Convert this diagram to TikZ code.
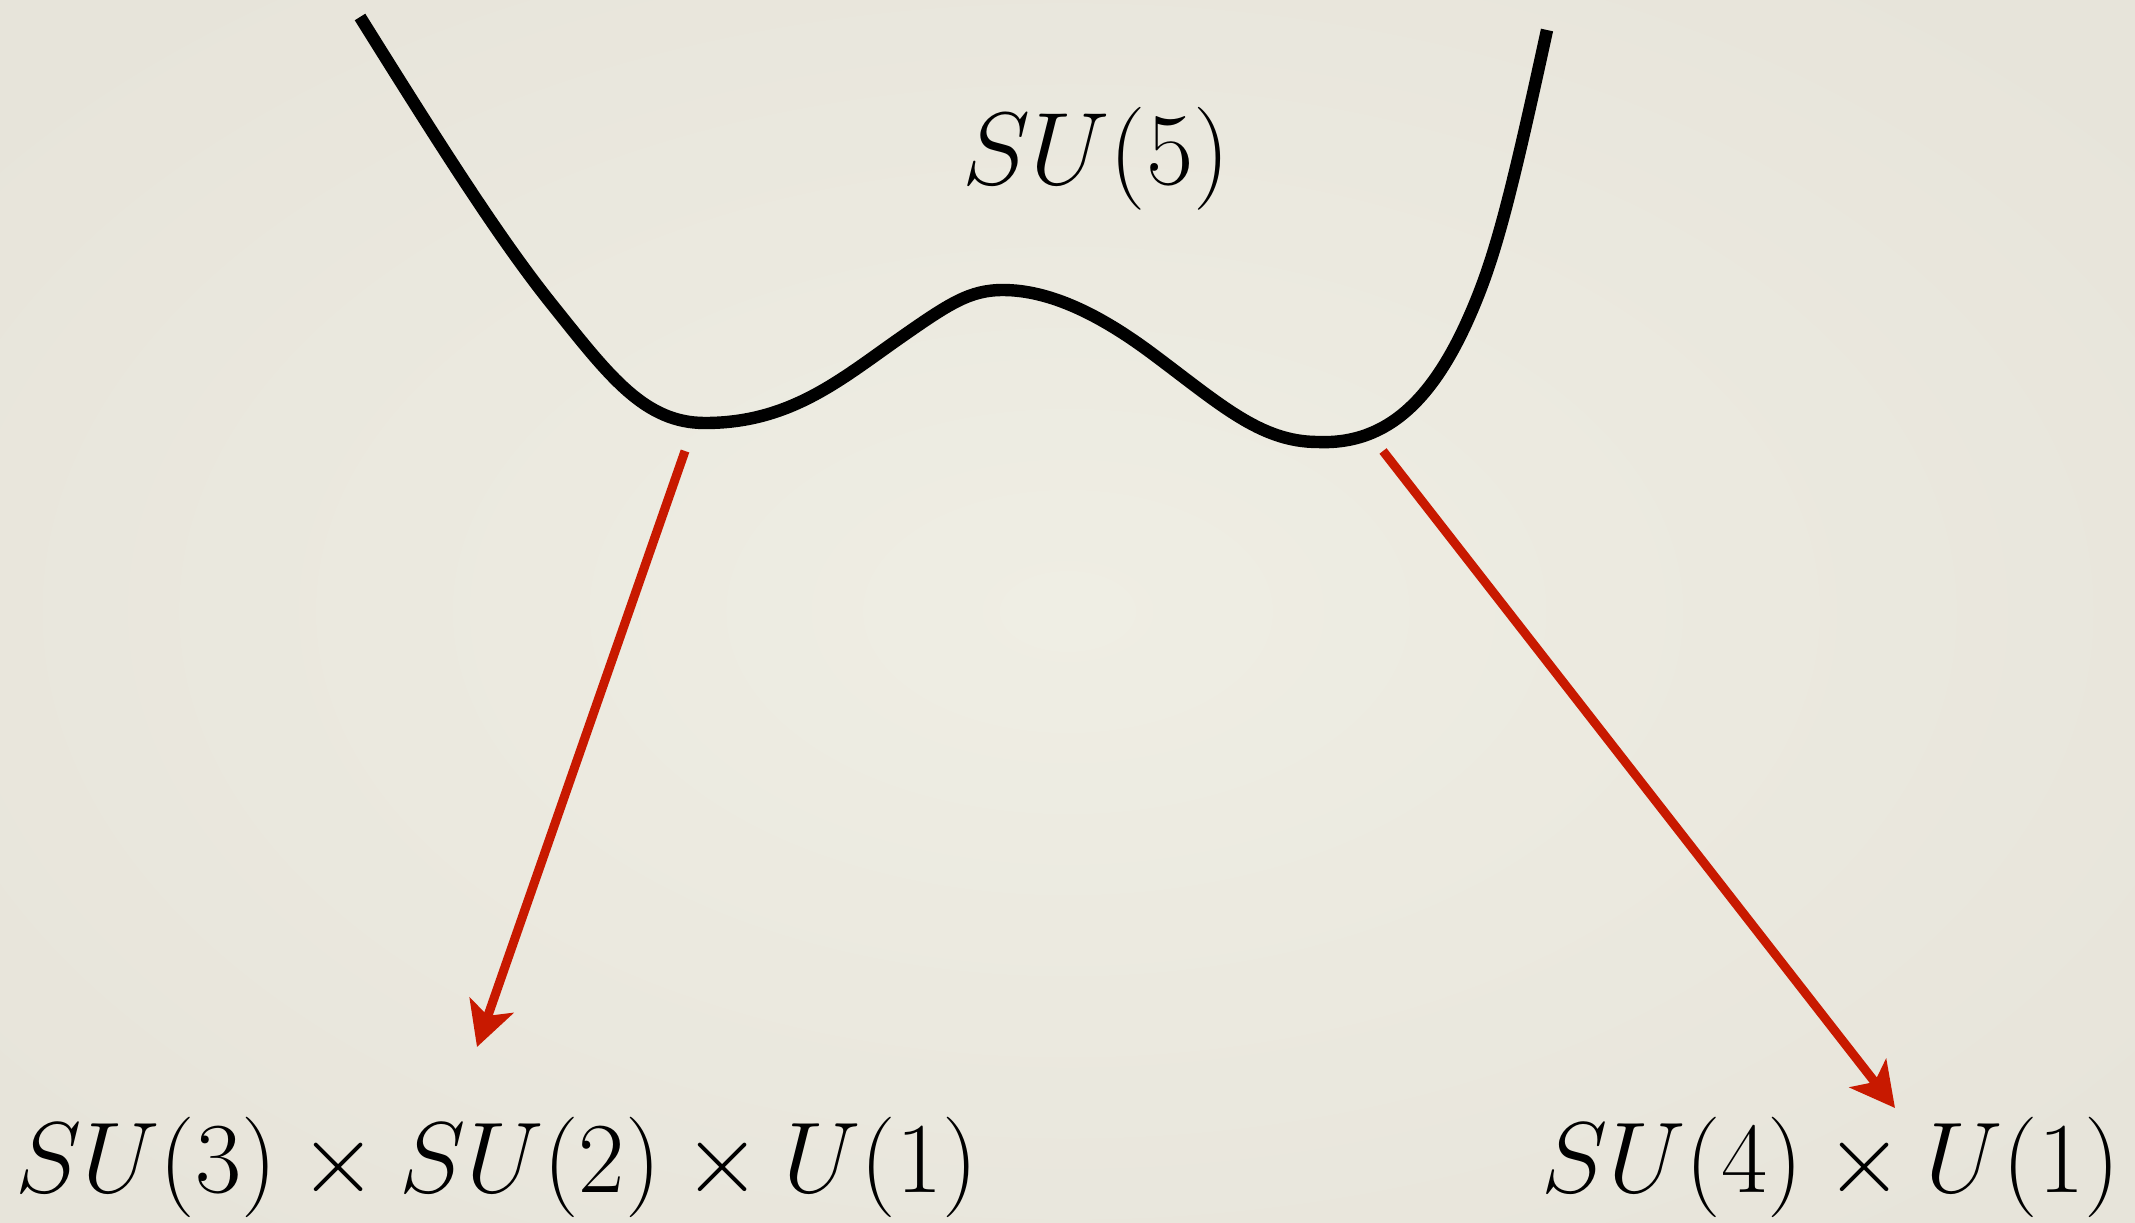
\documentclass[tikz,border=0pt]{standalone}
\usetikzlibrary{arrows.meta}
\definecolor{bgcenter}{HTML}{EFEEE4}
\definecolor{bgedge}{HTML}{E7E4DA}
\definecolor{arrowred}{HTML}{C81900}
\tikzset{
  lbl/.style={inner sep=0pt, scale=2.02, font=\fontsize{24.88}{30}\selectfont},
  potential/.style={line width=6.2pt, black},
  breakarrow/.style={line width=4.5pt, arrowred, -{Stealth[length=22pt, width=23pt, inset=5.5pt]}}
}
\begin{document}
\begin{tikzpicture}[x=0.5pt, y=-0.5pt]
\useasboundingbox (0,0) rectangle (2135,1222);
\shade[inner color=bgcenter, outer color=bgedge] (-300,-200) rectangle (2435,1422);
\draw[potential] (360,17)
  .. controls (440,145) and (500,240) .. (554,307)
  .. controls (610,377) and (645,423) .. (705,423)
  .. controls (790,423) and (840,380) .. (900,338)
  .. controls (950,303) and (970,290) .. (1003,290)
  .. controls (1050,290) and (1100,315) .. (1150,352)
  .. controls (1220,404) and (1260,442) .. (1318,442)
  .. controls (1390,445) and (1435,395) .. (1470,315)
  .. controls (1495,258) and (1510,200) .. (1547,30);
\node[lbl, scale=1.025] (top) at (1096,159) {$SU(5)$};
\node[lbl] (left) at (497,1167) {$SU(3)\times SU(2)\times U(1)$};
\node[lbl] (right) at (1831,1167) {$SU(4)\times U(1)$};
\coordinate (ls) at (685,451);
\coordinate (lt) at (477,1047);
\coordinate (rs) at (1383,451);
\coordinate (rt) at (1895,1108);
\draw[breakarrow] (ls) -- (lt);
\draw[breakarrow] (rs) -- (rt);
\end{tikzpicture}
\end{document}
